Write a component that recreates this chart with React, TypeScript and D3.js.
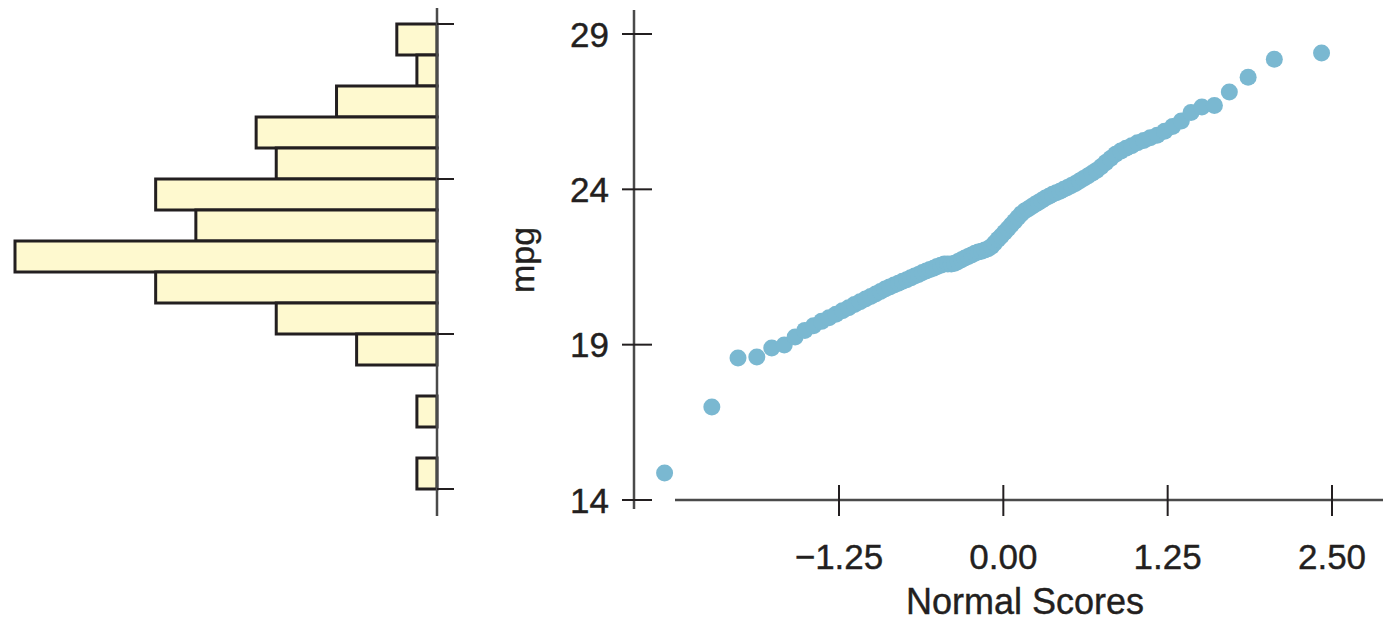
import React from "react";
import * as d3 from "d3";

// ---- data ----
const mpgTicks = [14, 19, 24, 29];
const scoreTicks = [-1.25, 0, 1.25, 2.5];
const scoreTickLabels = ["\u22121.25", "0.00", "1.25", "2.50"];

// histogram (left panel): bins of width 1 mpg, with counts
const histBinStarts = [28, 27, 26, 25, 24, 23, 22, 21, 20, 19, 18, 17, 16, 15, 14];
const histCounts = [2, 1, 5, 9, 8, 14, 12, 21, 14, 8, 4, 0, 1, 0, 1];

// sorted mpg values (right panel, normal probability plot)
const mpg = [
  14.87, 16.99, 18.57, 18.6, 18.89, 18.99, 19.25, 19.46, 19.61, 19.75,
  19.87, 19.98, 20.09, 20.19, 20.29, 20.38, 20.47, 20.55, 20.63, 20.71,
  20.79, 20.86, 20.92, 20.98, 21.04, 21.09, 21.15, 21.21, 21.26, 21.32,
  21.37, 21.42, 21.46, 21.52, 21.56, 21.6, 21.6, 21.6, 21.62, 21.68,
  21.73, 21.79, 21.84, 21.89, 21.94, 21.98, 22.01, 22.05, 22.09, 22.16,
  22.27, 22.39, 22.5, 22.62, 22.73, 22.85, 22.97, 23.09, 23.21, 23.3,
  23.37, 23.44, 23.51, 23.58, 23.65, 23.72, 23.78, 23.84, 23.89, 23.94,
  24.0, 24.06, 24.12, 24.19, 24.27, 24.35, 24.43, 24.52, 24.61, 24.73,
  24.86, 24.99, 25.13, 25.23, 25.32, 25.4, 25.5, 25.57, 25.66, 25.74,
  25.87, 26.02, 26.2, 26.47, 26.65, 26.7, 27.13, 27.61, 28.19, 28.39,
];
// the plotted scores sit slightly left of the axis zero in the picture
const scoreShift = -0.078;

// inverse standard normal CDF (Acklam)
function invNorm(p: number): number {
  const a = [-39.69683028665376, 220.9460984245205, -275.9285104469687, 138.357751867269, -30.66479806614716, 2.506628277459239];
  const b = [-54.47609879822406, 161.5858368580409, -155.6989798598866, 66.80131188771972, -13.28068155288572];
  const c = [-0.007784894002430293, -0.3223964580411365, -2.400758277161838, -2.549732539343734, 4.374664141464968, 2.938163982698783];
  const d = [0.007784695709041462, 0.3224671290700398, 2.445134137142996, 3.754408661907416];
  const pl = 0.02425;
  if (p < pl) {
    const q = Math.sqrt(-2 * Math.log(p));
    return (((((c[0] * q + c[1]) * q + c[2]) * q + c[3]) * q + c[4]) * q + c[5]) / ((((d[0] * q + d[1]) * q + d[2]) * q + d[3]) * q + 1);
  }
  if (p > 1 - pl) {
    const q = Math.sqrt(-2 * Math.log(1 - p));
    return -(((((c[0] * q + c[1]) * q + c[2]) * q + c[3]) * q + c[4]) * q + c[5]) / ((((d[0] * q + d[1]) * q + d[2]) * q + d[3]) * q + 1);
  }
  const q = p - 0.5;
  const r = q * q;
  return ((((((a[0] * r + a[1]) * r + a[2]) * r + a[3]) * r + a[4]) * r + a[5]) * q) / (((((b[0] * r + b[1]) * r + b[2]) * r + b[3]) * r + b[4]) * r + 1);
}

const n = mpg.length;
const scores = mpg.map((_, i) => invNorm((i + 1 - 0.375) / (n + 0.25)) + scoreShift);

const W = 1383;
const H = 623;
const FONT = "'Liberation Sans', Arial, Helvetica, sans-serif";
const INK = "#231f20";
const AXIS = "#4a4a4a";

export default function App() {
  // scatter scales
  const x = d3.scaleLinear().domain([-1.25, 2.5]).range([839, 1332]);
  const y = d3.scaleLinear().domain([14, 29]).range([500, 34]);
  // histogram scales
  const yH = d3.scaleLinear().domain([14, 29]).range([489, 24]);
  const xH = d3.scaleLinear().domain([0, 21]).range([437, 15]);
  const histAxisX = xH(0);
  const yAxisX = 634;
  const textProps = { fill: INK, stroke: INK, strokeWidth: 0.4 };

  return (
    <svg width={W} height={H} style={{ position: "absolute", left: 0, top: 0, background: "#fff" }} fontFamily={FONT}>
      {/* histogram */}
      <g>
        {histBinStarts.map((b, i) =>
          histCounts[i] > 0 ? (
            <rect
              key={b}
              x={xH(histCounts[i])}
              y={yH(b + 1)}
              width={histAxisX - xH(histCounts[i])}
              height={yH(b) - yH(b + 1)}
              fill="#fef9cf"
              stroke={INK}
              strokeWidth={3}
            />
          ) : null
        )}
        <line x1={histAxisX} x2={histAxisX} y1={8} y2={516} stroke={AXIS} strokeWidth={2.5} />
        {mpgTicks.map((t) => (
          <line key={t} x1={histAxisX} x2={histAxisX + 17} y1={yH(t)} y2={yH(t)} stroke={INK} strokeWidth={2} />
        ))}
      </g>

      {/* scatter axes */}
      <g>
        <line x1={yAxisX} x2={yAxisX} y1={10} y2={509} stroke={AXIS} strokeWidth={2.5} />
        {mpgTicks.map((t) => (
          <g key={t}>
            <line x1={622} x2={652} y1={y(t)} y2={y(t)} stroke={INK} strokeWidth={2} />
            <text x={609} y={y(t) + 12.5} textAnchor="end" fontSize={35} {...textProps}>
              {t}
            </text>
          </g>
        ))}
        <line x1={675} x2={W} y1={y(14)} y2={y(14)} stroke={AXIS} strokeWidth={2.5} />
        {scoreTicks.map((t, i) => (
          <g key={t}>
            <line x1={x(t)} x2={x(t)} y1={485} y2={516} stroke={INK} strokeWidth={2} />
            <text x={x(t)} y={569} textAnchor="middle" fontSize={35} {...textProps}>
              {scoreTickLabels[i]}
            </text>
          </g>
        ))}
        <text x={1025} y={614} textAnchor="middle" fontSize={36} {...textProps}>
          Normal Scores
        </text>
        <text transform={`translate(534,260) rotate(-90)`} textAnchor="middle" fontSize={34} {...textProps}>
          mpg
        </text>
      </g>

      {/* points */}
      <g>
        {mpg.map((v, i) => (
          <circle key={i} cx={x(scores[i])} cy={y(v)} r={8.5} fill="#7ab8d1" />
        ))}
      </g>
    </svg>
  );
}
